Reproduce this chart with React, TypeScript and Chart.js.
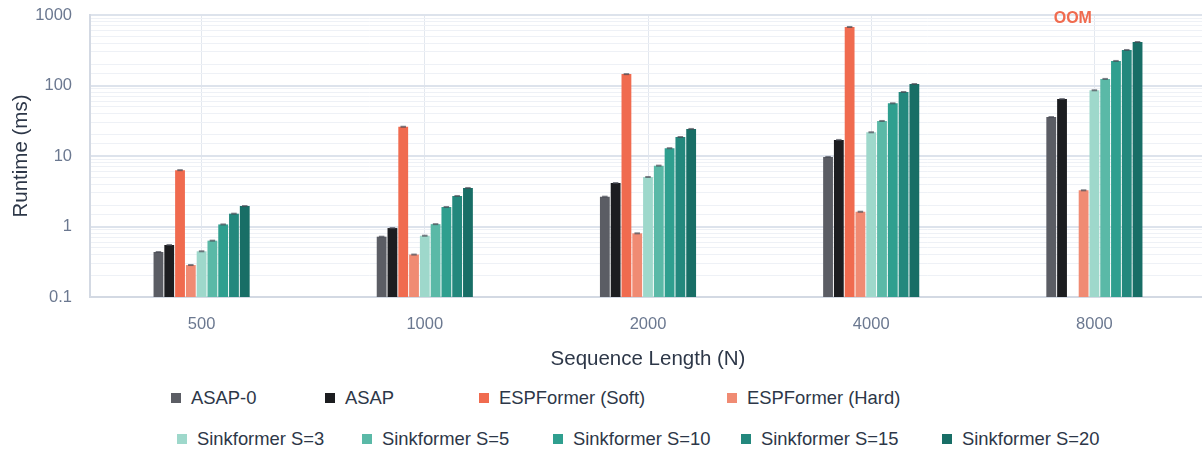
import React, { useEffect, useRef } from "react";
import { Chart, registerables } from "chart.js";

Chart.register(...registerables);

const categories = ["500", "1000", "2000", "4000", "8000"];
const seriesLabels = [
  "ASAP-0",
  "ASAP",
  "ESPFormer (Soft)",
  "ESPFormer (Hard)",
  "Sinkformer S=3",
  "Sinkformer S=5",
  "Sinkformer S=10",
  "Sinkformer S=15",
  "Sinkformer S=20",
];
const asap0 = [0.435, 0.717, 2.65, 9.7, 35.7];
const asap = [0.547, 0.95, 4.14, 16.9, 64.4];
const espSoft: (number | null)[] = [6.3, 26, 145, 676, null];
const espHard = [0.284, 0.4, 0.8, 1.62, 3.26];
const sink3 = [0.445, 0.74, 5.04, 21.7, 85.5];
const sink5 = [0.63, 1.08, 7.3, 31.4, 124];
const sink10 = [1.07, 1.89, 12.9, 55.9, 223];
const sink15 = [1.52, 2.71, 18.6, 80.9, 319];
const sink20 = [1.95, 3.52, 24.2, 105, 414];
const yTickValues = [0.1, 1, 10, 100, 1000];
const oomLabel = "OOM";

const seriesData = [asap0, asap, espSoft, espHard, sink3, sink5, sink10, sink15, sink20];
const seriesColors = [
  "#5b5d64",
  "#1c1d20",
  "#f06b4f",
  "#f08b73",
  "#9ed8cb",
  "#5ab9a7",
  "#2f9f8f",
  "#23887d",
  "#186e66",
];

// legend layout (positions of items in each row)
const legendRows = [
  { y: 397.7, items: [0, 1, 2, 3], x: [171, 325, 479, 727] },
  { y: 439, items: [4, 5, 6, 7, 8], x: [177, 362, 553, 741, 942] },
];

const FONT = "'Liberation Sans', Arial, Helvetica, sans-serif";

const capsPlugin = {
  id: "caps",
  afterDatasetsDraw(chart: any) {
    const ctx = chart.ctx;
    ctx.save();
    chart.data.datasets.forEach((ds: any, di: number) => {
      const meta = chart.getDatasetMeta(di);
      meta.data.forEach((el: any, i: number) => {
        const v = ds.data[i];
        if (v == null || !isFinite(el.y)) return;
        const w = el.width * 0.56;
        ctx.fillStyle = "rgba(70,72,82,0.7)";
        ctx.fillRect(el.x - w / 2, el.y - 1, w, 2);
      });
    });
    // OOM label
    const meta = chart.getDatasetMeta(2);
    const idx = espSoft.findIndex((v) => v == null);
    if (idx >= 0) {
      let x = meta.data[idx] ? meta.data[idx].x : NaN;
      if (!isFinite(x)) {
        const xs = chart.scales.x;
        const cw = (xs.width / categories.length) * 0.435;
        x = xs.getPixelForValue(idx) - cw / 2 + (cw / 9) * 2.5;
      }
      ctx.font = `bold 16px ${FONT}`;
      ctx.fillStyle = "#f06b4f";
      ctx.textAlign = "center";
      ctx.textBaseline = "middle";
      ctx.fillText(oomLabel, x, 19);
    }
    ctx.restore();
  },
};

function isMajor(v: number) {
  const l = Math.log10(v);
  return Math.abs(l - Math.round(l)) < 1e-9;
}

export default function App() {
  const canvasRef = useRef<HTMLCanvasElement | null>(null);

  useEffect(() => {
    if (!canvasRef.current) return;
    Chart.defaults.font.family = FONT;
    const chart = new Chart(canvasRef.current, {
      type: "bar",
      data: {
        labels: categories,
        datasets: seriesData.map((d, i) => ({
          label: seriesLabels[i],
          data: d as any,
          backgroundColor: seriesColors[i],
          borderWidth: 0,
          barPercentage: 0.91,
          categoryPercentage: 0.435,
        })),
      },
      options: {
        responsive: false,
        animation: false,
        devicePixelRatio: 1,
        layout: { padding: { top: 15, left: 0, right: 0, bottom: 0 } },
        plugins: {
          legend: { display: false },
          tooltip: { enabled: false },
        },
        scales: {
          x: {
            grid: {
              offset: false,
              color: "#e3e8ef",
              lineWidth: 1,
              drawTicks: false,
            },
            border: { color: "#d3d9e3", width: 2 },
            ticks: {
              color: "#6b7890",
              font: { size: 16.5 },
              padding: 18,
            },
            title: {
              display: true,
              text: "Sequence Length (N)",
              color: "#2d3748",
              font: { size: 20.5 },
              padding: 8,
            },
            afterFit(scale: any) {
              scale.height = 83;
              scale.paddingLeft = 0;
              scale.paddingRight = 0;
            },
          },
          y: {
            type: "logarithmic",
            min: 0.1,
            max: 1000,
            grid: {
              drawTicks: false,
              color: (ctx: any) =>
                ctx.tick && isMajor(ctx.tick.value) ? "#dde3ec" : "#eef1f6",
              lineWidth: (ctx: any) => (ctx.tick && isMajor(ctx.tick.value) ? 2 : 1),
            },
            border: { color: "#d3d9e3", width: 2 },
            ticks: {
              autoSkip: false,
              color: "#6b7890",
              font: { size: 16.5 },
              padding: 18,
              callback: (v: any) => {
                const n = Number(v);
                const hit = yTickValues.find((t) => Math.abs(t - n) < 1e-9 * Math.max(1, t));
                return hit !== undefined ? String(hit) : "";
              },
            },
            title: {
              display: true,
              text: "Runtime (ms)",
              color: "#2d3748",
              font: { size: 20.5 },
              padding: 9,
            },
            afterFit(scale: any) {
              scale.width = 90;
              scale.paddingTop = 0;
              scale.paddingBottom = 0;
            },
          },
        },
      } as any,
      plugins: [capsPlugin],
    });
    return () => chart.destroy();
  }, []);

  return (
    <div
      style={{
        position: "fixed",
        left: 0,
        top: 0,
        width: 1202,
        height: 450,
        overflow: "hidden",
        background: "#ffffff",
        fontFamily: FONT,
      }}
    >
      <canvas
        ref={canvasRef}
        width={1206}
        height={380}
        style={{ position: "absolute", left: 0, top: 0, width: 1206, height: 380 }}
      />
      {legendRows.map((row, ri) =>
        row.items.map((si, k) => (
          <div
            key={`${ri}-${k}`}
            style={{
              position: "absolute",
              left: row.x[k],
              top: row.y - 12,
              height: 24,
              display: "flex",
              alignItems: "center",
              whiteSpace: "nowrap",
              fontSize: 18.4,
              color: "#2d3748",
            }}
          >
            <span
              style={{
                display: "inline-block",
                width: 10,
                height: 10,
                background: seriesColors[si],
                marginRight: 10,
              }}
            />
            <span>{seriesLabels[si]}</span>
          </div>
        ))
      )}
    </div>
  );
}
